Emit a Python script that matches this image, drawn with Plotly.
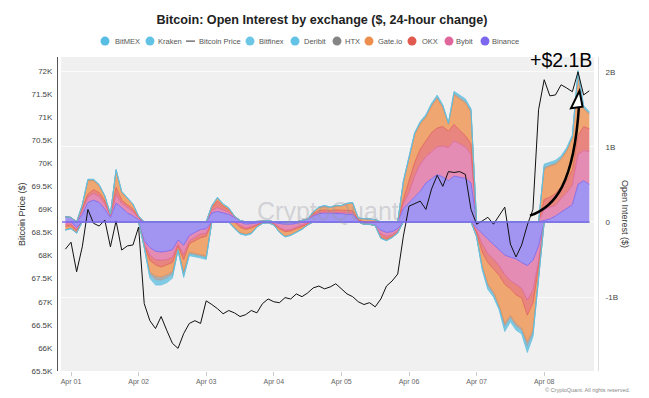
import numpy as np
import pandas as pd
import plotly.graph_objects as go

# ---------------- DATA ----------------
times = pd.date_range("2024-03-31 22:00", periods=94, freq="2h")

# Bitcoin price (thousand USD)
btc_price_k = [
    68.14, 68.29, 67.65, 68.19, 69.00, 68.70, 68.64, 68.77, 68.19, 68.75,
    68.12, 68.21, 68.23, 68.62, 66.96, 66.59, 66.42, 66.68, 66.38, 66.10,
    65.99, 66.31, 66.53, 66.59, 66.53, 67.02, 66.94, 66.85, 66.74, 66.81,
    66.76, 66.68, 66.72, 66.81, 66.76, 66.96, 67.06, 67.00, 66.98, 67.09,
    67.06, 67.17, 67.11, 67.19, 67.30, 67.34, 67.28, 67.32, 67.39, 67.28,
    67.17, 67.11, 67.00, 66.94, 66.98, 66.89, 67.06, 67.34, 67.45, 67.60,
    68.42, 69.07, 69.13, 69.18, 69.00, 69.44, 69.74, 69.50, 69.82, 69.80,
    69.82, 69.76, 69.00, 68.68, 68.75, 68.83, 68.68, 68.88, 69.05, 68.25,
    67.97, 68.23, 68.66, 69.00, 71.16, 71.81, 71.46, 71.48, 71.70, 71.63,
    71.55, 71.98, 71.48, 71.57,
]

# 24-hour change in open interest, million USD
binance = [
    70, 60, -70, 100, 260, 290, 260, 170, 60, 250,
    190, 120, 80, 30, -250, -340, -390, -400, -390, -370,
    -240, -310, -180, -140, -100, -90, 120, 140, 120, 100,
    60, 20, -30, -20, -10, 10, 20, -10, -20, -30,
    -30, -20, 20, 40, 80, 110, 120, 120, 120, 110,
    100, 100, 20, -30, -30, -40, -110, -140, -130, -90,
    180, 260, 330, 410, 520, 580, 630, 600, 550, 610,
    600, 580, 520, -80, -160, -230, -300, -370, -440, -470,
    -490, -540, -580, -510, -320, 20, 40, 80, 130, 180,
    230, 500, 550, 500,
]
bybit = [
    -30, -30, -30, 50, 70, 90, 80, 70, 20, 110,
    60, 70, 60, 20, -40, -100, -110, -110, -110, -100,
    -50, -120, -70, -60, -60, -60, 30, 50, 40, 30,
    10, -40, -50, -40, -20, -10, -10, -10, -50, -80,
    -70, -50, -30, -10, 10, 10, 10, 10, 10, 20,
    20, 20, 10, 0, 0, -10, -50, -50, -40, -30,
    60, 130, 280, 360, 350, 360, 370, 410, 440, 470,
    440, 420, 380, -40, -130, -190, -190, -210, -260, -310,
    -340, -340, -460, -400, -200, 150, 150, 140, 180, 210,
    260, 400, 400, 440,
]
okx = [
    -30, -20, -20, 30, 40, 50, 50, 40, 10, 100,
    40, 40, 30, 10, -20, -70, -70, -90, -70, -70,
    -30, -70, -40, -50, -50, -40, 40, 90, 50, 30,
    10, -30, -20, -20, -10, 0, 0, -10, -20, -20,
    -20, -20, -20, -10, 20, 30, 30, 20, 30, 30,
    30, 30, 0, 0, 0, 0, -50, -40, -30, -20,
    60, 140, 180, 200, 210, 250, 250, 260, 220, 220,
    180, 150, 140, -20, -110, -120, -130, -130, -130, -110,
    -140, -130, -200, -170, -80, 130, 140, 160, 150, 160,
    200, 250, 320, 300,
]
gateio = [
    -40, -30, -20, 40, 180, 120, 90, 60, 10, 220,
    100, 80, 60, 15, -20, -150, -150, -130, -130, -120,
    -40, -160, -110, -170, -220, -260, 20, 30, 20, 20,
    -70, -70, -60, -60, -20, -10, 0, -10, -40, -60,
    -50, -40, -40, -20, 20, 40, 50, 40, 50, 50,
    90, 100, 20, 40, 40, 30, 0, -10, 0, 0,
    220, 300, 370, 330, 310, 350, 390, 250, 90, 390,
    420, 430, 420, -50, -180, -280, -310, -400, -520, -350,
    -380, -400, -350, -360, -160, 400, 410, 380, 370, 390,
    420, 800, 230, 190,
]
htx = [
    -4, -4, -4, 4, 8, 8, 8, 4, 2, 8,
    8, 8, 4, 2, -4, -36, -48, -44, -44, -36,
    -8, -32, -20, -16, -20, -20, 4, 8, 4, 4,
    -8, -8, -8, -8, -4, 0, 0, 0, -4, -4,
    -4, -4, -4, 0, 2, 4, 4, 4, 4, 4,
    4, 4, 0, 2, 2, 0, -4, -4, -4, -4,
    12, 12, 12, 16, 16, 16, 20, 16, 8, 20,
    20, 24, 20, -4, -24, -32, -28, -24, -44, -36,
    -36, -32, -60, -36, -16, 28, 20, 24, 20, 20,
    20, 28, 20, 16,
]
deribit = [
    -3, -3, -3, 3, 5, 5, 5, 3, 1, 5,
    5, 5, 3, 1, -3, -22, -30, -27, -27, -22,
    -5, -20, -12, -10, -12, -12, 3, 5, 3, 3,
    -5, -5, -5, -5, -3, 0, 0, 0, -3, -3,
    -3, -3, -3, 0, 1, 3, 3, 3, 3, 3,
    3, 3, 0, 1, 1, 0, -3, -3, -3, -3,
    8, 8, 8, 10, 10, 10, 12, 10, 5, 12,
    12, 15, 12, -3, -15, -20, -18, -15, -27, -22,
    -22, -20, -38, -22, -10, 18, 12, 15, 12, 12,
    12, 18, 12, 10,
]
bitfinex = [
    -1, -1, -1, 1, 2, 2, 2, 1, 1, 2,
    2, 2, 1, 1, -1, -9, -12, -11, -11, -9,
    -2, -8, -5, -4, -5, -5, 1, 2, 1, 1,
    -2, -2, -2, -2, -1, 0, 0, 0, -1, -1,
    -1, -1, -1, 0, 1, 1, 1, 1, 1, 1,
    1, 1, 0, 1, 1, 0, -1, -1, -1, -1,
    3, 3, 3, 4, 4, 4, 5, 4, 2, 5,
    5, 6, 5, -1, -6, -8, -7, -6, -11, -9,
    -9, -8, -15, -9, -4, 7, 5, 6, 5, 5,
    5, 7, 5, 4,
]
kraken = [
    0, 0, 0, 0, 1, 1, 1, 0, 0, 1,
    1, 1, 0, 0, 0, -5, -6, -6, -6, -5,
    -1, -4, -3, -2, -3, -3, 0, 1, 0, 0,
    -1, -1, -1, -1, 0, 0, 0, 0, 0, 0,
    0, 0, 0, 0, 0, 0, 0, 0, 0, 0,
    0, 0, 0, 0, 0, 0, 0, 0, 0, 0,
    1, 1, 1, 2, 2, 2, 3, 2, 1, 3,
    3, 3, 3, 0, -3, -4, -4, -3, -6, -5,
    -5, -4, -7, -5, -2, 3, 3, 3, 3, 3,
    3, 3, 3, 2,
]
bitmex = [
    -2, -2, -2, 2, 4, 4, 4, 2, 1, 4,
    4, 4, 2, 1, -2, -18, -24, -22, -22, -18,
    -4, -16, -10, -8, -10, -10, 2, 4, 2, 2,
    -4, -4, -4, -4, -2, 0, 0, 0, -2, -2,
    -2, -2, -2, 0, 1, 2, 2, 2, 2, 2,
    2, 2, 0, 1, 1, 0, -2, -2, -2, -2,
    6, 6, 6, 8, 8, 8, 10, 8, 4, 10,
    10, 12, 10, -2, -12, -16, -14, -12, -22, -18,
    -18, -16, -30, -18, -8, 14, 10, 12, 10, 10,
    10, 14, 10, 8,
]

exchanges = ["Binance", "Bybit", "OKX", "Gate.io", "HTX", "Deribit", "Bitfinex", "Kraken", "BitMEX"]
series = {"Binance": binance, "Bybit": bybit, "OKX": okx, "Gate.io": gateio, "HTX": htx,
          "Deribit": deribit, "Bitfinex": bitfinex, "Kraken": kraken, "BitMEX": bitmex}

price_ticks = [65500 + 500 * k for k in range(14)]
price_ticktext = ["65.5K", "66K", "66.5K", "67K", "67.5K", "68K", "68.5K", "69K",
                  "69.5K", "70K", "70.5K", "71K", "71.5K", "72K"]
oi_ticks = [-1e9, 0, 1e9, 2e9]
oi_ticktext = ["-1B", "0", "1B", "2B"]
date_ticks = pd.date_range("2024-04-01", periods=8, freq="D")
date_ticktext = ["Apr 01", "Apr 02", "Apr 03", "Apr 04", "Apr 05", "Apr 06", "Apr 07", "Apr 08"]

legend_order = ["BitMEX", "Kraken", "Bitcoin Price", "Bitfinex", "Deribit", "HTX", "Gate.io", "OKX", "Bybit", "Binance"]

# ---------------- STYLE ----------------
legend_colors = {"Binance": "#7b68ee", "Bybit": "#e0679c", "OKX": "#e05a50", "Gate.io": "#ec8f4e",
                 "HTX": "#858585", "Deribit": "#62c3e6", "Bitfinex": "#6cc7e6", "Kraken": "#62c2e4",
                 "BitMEX": "#58bde2"}
line_colors = {"Binance": "#7b68ee", "Bybit": "#d9629a", "OKX": "#df5a52", "Gate.io": "#e98d4e",
               "HTX": "#8c8c8c", "Deribit": "#5dbddc", "Bitfinex": "#6cc5e2", "Kraken": "#66c0e0",
               "BitMEX": "#62bcdc"}
fill_colors = {"Binance": "#a195f1", "Bybit": "#e58cb5", "OKX": "#e8857f", "Gate.io": "#efa671",
               "HTX": "#acacac", "Deribit": "#86cde6", "Bitfinex": "#93d3ea", "Kraken": "#8ad0e8",
               "BitMEX": "#84cce6"}
line_widths = {"Binance": 0.9, "Bybit": 0.8, "OKX": 0.8, "Gate.io": 0.8, "HTX": 0.5,
               "Deribit": 0.5, "Bitfinex": 0.5, "Kraken": 0.5, "BitMEX": 0.6}

W, H = 649, 398
ML, MR, MT, MB = 50, 45, 57, 25
PW, PH = W - ML - MR, H - MT - MB


def px(x):
    return (x - ML) / PW


def py(y):
    return (H - MB - y) / PH


fig = go.Figure()

for grp, clipper in (("neg", lambda a: np.clip(a, None, 0)), ("pos", lambda a: np.clip(a, 0, None))):
    for name in exchanges:
        vals = clipper(np.array(series[name], dtype=float) * 1e6)
        fig.add_trace(go.Scatter(
            x=times, y=vals, name=name, stackgroup=grp, mode="lines",
            line=dict(color=line_colors[name], width=line_widths[name]),
            fillcolor=fill_colors[name],
            showlegend=False, yaxis="y", hoverinfo="skip"))

fig.add_trace(go.Scatter(
    x=times, y=np.array(btc_price_k) * 1000, name="Bitcoin Price", mode="lines",
    line=dict(color="#111111", width=1), yaxis="y2", showlegend=False))

x0d = pd.Timestamp("2024-04-01") - pd.Timedelta(hours=3.55)
x1d = pd.Timestamp("2024-04-01") + pd.Timedelta(days=7.7367)

fig.update_layout(
    width=W, height=H, autosize=False,
    margin=dict(l=ML, r=MR, t=MT, b=MB, pad=0),
    paper_bgcolor="white", plot_bgcolor="#f0f0f0",
    font=dict(family="Liberation Sans, Arial, sans-serif", color="#444"),
    showlegend=False,
    title=dict(text="<b>Bitcoin: Open Interest by exchange ($, 24-hour change)</b>",
               x=322 / W, xanchor="center", y=1 - 20 / H, yanchor="middle",
               font=dict(size=12.6, color="#222", family="Liberation Sans, Arial, sans-serif")),
    xaxis=dict(type="date", range=[x0d, x1d], domain=[px(61), px(594)], anchor="y",
               tickvals=date_ticks, ticktext=date_ticktext, ticks="outside", ticklen=4,
               tickcolor="#cccccc", showline=False, showgrid=False, zeroline=False,
               tickfont=dict(size=7, color="#666")),
    yaxis=dict(side="right", anchor="free", position=px(598),
               range=[-1.984e9, 2.196e9], tickvals=oi_ticks, ticktext=oi_ticktext,
               showgrid=True, gridcolor="#fbfbfb", gridwidth=1, zeroline=False,
               showline=True, linecolor="#dddddd", linewidth=1,
               ticks="outside", ticklen=5, tickcolor="rgba(0,0,0,0)",
               tickfont=dict(size=8, color="#444")),
    yaxis2=dict(side="left", overlaying="y", anchor="free", position=px(57),
                range=[65500, 72302], tickvals=price_ticks, ticktext=price_ticktext,
                showgrid=False, zeroline=False, showline=True, linecolor="#555", linewidth=1,
                ticks="outside", ticklen=3, tickcolor="rgba(0,0,0,0)",
                tickfont=dict(size=8, color="#444")),
)

shapes = []
annotations = []

# zero line in Binance colour
shapes.append(dict(type="line", xref="paper", yref="y", x0=px(62), x1=px(589), y0=0, y1=0,
                   line=dict(color="#7b68ee", width=1.5), layer="above"))

# Legend (manual)
legend_x = {"BitMEX": (105, 113), "Kraken": (150, 156), "Bitcoin Price": (191, 197),
            "Bitfinex": (250, 257), "Deribit": (295, 302), "HTX": (337, 343),
            "Gate.io": (369, 376), "OKX": (412, 420), "Bybit": (449, 454), "Binance": (485, 490)}
legend_y = 41
for name in legend_order:
    cx, tx = legend_x[name]
    if name == "Bitcoin Price":
        shapes.append(dict(type="line", xref="paper", yref="paper", x0=px(cx - 5), x1=px(cx + 4),
                           y0=py(legend_y), y1=py(legend_y), line=dict(color="#333", width=1)))
    else:
        shapes.append(dict(type="circle", xref="paper", yref="paper", xsizemode="pixel",
                           ysizemode="pixel", xanchor=px(cx), yanchor=py(legend_y),
                           x0=-4.5, x1=4.5, y0=-4.5, y1=4.5,
                           fillcolor=legend_colors[name], line=dict(width=0)))
    annotations.append(dict(text=name, xref="paper", yref="paper", x=px(tx), y=py(legend_y),
                            xanchor="left", yanchor="middle", showarrow=False,
                            font=dict(size=7.5, color="#555")))

# Axis titles
annotations.append(dict(text="Bitcoin Price ($)", xref="paper", yref="paper", x=px(22), y=py(215),
                        textangle=-90, showarrow=False, xanchor="center", yanchor="middle",
                        font=dict(size=9, color="#333")))
annotations.append(dict(text="Open Interest ($)", xref="paper", yref="paper", x=px(625), y=py(215),
                        textangle=90, showarrow=False, xanchor="center", yanchor="middle",
                        font=dict(size=9, color="#333")))

# Watermark
annotations.append(dict(text="CryptoQuant", xref="paper", yref="paper", x=px(328), y=py(212),
                        showarrow=False, xanchor="center", yanchor="middle",
                        font=dict(size=25, color="rgba(150,150,165,0.36)")))
annotations.append(dict(text="© CryptoQuant. All rights reserved.", xref="paper", yref="paper",
                        x=px(588), y=py(392.5), showarrow=False, xanchor="center", yanchor="middle",
                        font=dict(size=5.5, color="#888")))

# +$2.1B callout
annotations.append(dict(text="+$2.1B", xref="paper", yref="paper", x=px(561), y=py(60),
                        showarrow=False, xanchor="center", yanchor="middle",
                        font=dict(size=19.5, color="#000")))
curve = "M %f,%f C %f,%f %f,%f %f,%f" % (px(530), py(216.7), px(555), py(208), px(574), py(185),
                                          px(579), py(106))
shapes.append(dict(type="path", xref="paper", yref="paper", path=curve,
                   line=dict(color="#000", width=2.5), layer="above"))
tri = "M %f,%f L %f,%f L %f,%f Z" % (px(579.5), py(91), px(571), py(108.5), px(582.5), py(107))
shapes.append(dict(type="path", xref="paper", yref="paper", path=tri, fillcolor="white",
                   line=dict(color="#000", width=2), layer="above"))

fig.update_layout(shapes=shapes, annotations=annotations)

fig.write_html("out.html",
               config={"displayModeBar": False},
               post_script="document.body.style.margin='0';document.body.style.overflow='hidden';")
